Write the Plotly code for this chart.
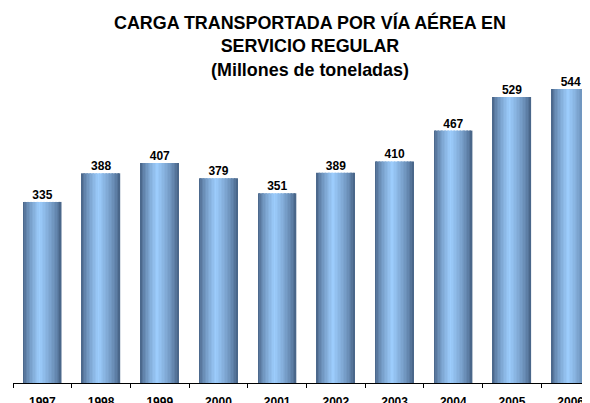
import plotly.graph_objects as go

years = ["1997", "1998", "1999", "2000", "2001", "2002", "2003", "2004", "2005", "2006"]
carga = [335, 388, 407, 379, 351, 389, 410, 467, 529, 544]
title_lines = ["CARGA TRANSPORTADA POR VÍA AÉREA EN", "SERVICIO REGULAR", "(Millones de toneladas)"]

BAR_W = 0.65
N = 26
dark = (64, 90, 124)
light = (156, 204, 252)
peak = 0.44

# page body has an 8px default margin -> figure is offset by (8, 8)
L, T, W, H = 5, 72, 590, 403
PLOT_BOTTOM = 375
PLOT_H = PLOT_BOTTOM - T
PLOT_W = W - L


def mix(a, b, f):
    return "rgb(%d,%d,%d)" % tuple(round(a[i] + (b[i] - a[i]) * f) for i in range(3))


fig = go.Figure()
sw = BAR_W / N
for k in range(N):
    t = (k + 0.5) / N
    if t <= peak:
        f = (t / peak) ** 0.65
    else:
        f = ((1 - t) / (1 - peak)) ** 0.65
    fig.add_trace(go.Bar(
        x=years, y=carga, width=sw * 1.05, offset=-BAR_W / 2 + k * sw,
        marker=dict(color=mix(dark, light, f), line=dict(width=0)),
        hoverinfo="skip", showlegend=False,
    ))

fig.add_trace(go.Scatter(
    x=years, y=carga, mode="text", text=[str(v) for v in carga],
    textposition="top center", cliponaxis=False,
    textfont=dict(family="Liberation Sans, Arial", size=12, color="black"),
    texttemplate="<b>%{text}</b>", showlegend=False, hoverinfo="skip",
))

fig.add_annotation(
    text="<b>" + "<br>".join(title_lines) + "</b>",
    xref="paper", yref="paper", x=(302 - L) / PLOT_W, y=(PLOT_BOTTOM - 2) / PLOT_H,
    xanchor="center", yanchor="top", showarrow=False, align="center",
    font=dict(size=17.9, family="Liberation Sans, Arial", color="black"),
)

fig.update_layout(
    width=W, height=H,
    margin=dict(l=L, r=0, t=T, b=H - PLOT_BOTTOM, pad=0, autoexpand=False),
    paper_bgcolor="white", plot_bgcolor="white",
    barmode="overlay",
    font=dict(family="Liberation Sans, Arial", color="black"),
    xaxis=dict(
        type="category", range=[-0.5, -0.5 + PLOT_W / 58.7], automargin=False,
        showline=True, linecolor="black", linewidth=1,
        ticks="outside", tickson="boundaries", ticklen=4, tickcolor="black",
        showgrid=False, zeroline=False,
        tickfont=dict(size=12, color="black"),
        ticklabelstandoff=8,
        tickvals=years, ticktext=["<b>%s</b>" % y for y in years],
    ),
    yaxis=dict(range=[0, PLOT_H / 0.5405], visible=False, automargin=False),
)

fig.write_html("out.html")
